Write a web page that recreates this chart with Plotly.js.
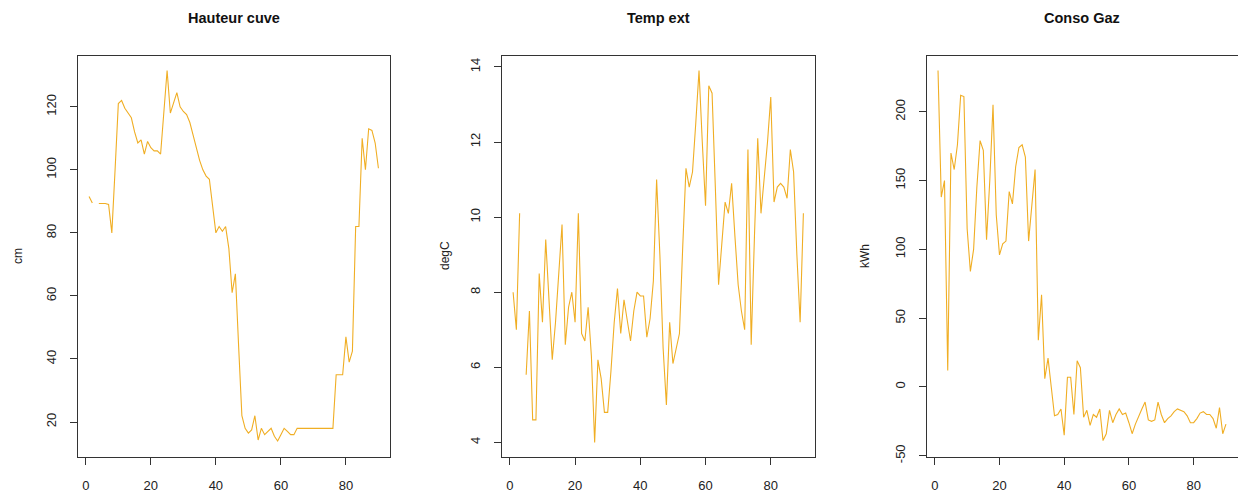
<!DOCTYPE html>
<html>
<head>
<meta charset="utf-8">
<script src="https://cdn.plot.ly/plotly-3.0.1.min.js"></script>
<style>html,body{margin:0;padding:0;background:#fff;}#chart{width:1238px;height:497px;}</style>
</head>
<body>
<div id="chart"></div>
<script>
// Index (day number)
const days = [1,2,3,4,5,6,7,8,9,10,11,12,13,14,15,16,17,18,19,20,21,22,23,24,25,26,27,28,29,30,
  31,32,33,34,35,36,37,38,39,40,41,42,43,44,45,46,47,48,49,50,51,52,53,54,55,56,57,58,59,60,
  61,62,63,64,65,66,67,68,69,70,71,72,73,74,75,76,77,78,79,80,81,82,83,84,85,86,87,88,89,90];

// Hauteur cuve (cm)
const hauteurCuve = [91.5,89.5,null,89.3,89.3,89.3,89,80,100,121,
  122,119.5,118,116.5,112,108.5,109.5,105,109,107,
  106,106,105,119,131.5,118,121,124.5,120,118.5,
  117.5,115,111,107,103,100,98,97,88,80,
  82,80.5,82,75,61,67,44,22,18,16.5,
  17.5,22,14.3,18,16,17,18,15.5,14,16,
  18,17,16,16,18,18,18,18,18,18,
  18,18,18,18,18,18,35,35,35,47,
  39,42.5,82,82,110,100,113,112.5,108.5,100.5];

// Temp ext (degC)
const tempExt = [8.0,7.0,10.1,null,5.8,7.5,4.6,4.6,8.5,7.2,
  9.4,7.8,6.2,7.2,8.6,9.8,6.6,7.6,8.0,7.2,
  10.1,6.9,6.7,7.6,6.3,4.0,6.2,5.7,4.8,4.8,
  5.9,7.2,8.1,6.9,7.8,7.3,6.7,7.5,8.0,7.9,
  7.9,6.8,7.3,8.3,11.0,9.0,6.5,5.0,7.2,6.1,
  6.5,6.9,9.2,11.3,10.8,11.2,12.5,13.9,12.0,10.3,
  13.5,13.3,10.8,8.2,9.3,10.4,10.1,10.9,9.5,8.2,
  7.5,7.0,11.8,6.6,9.5,12.1,10.1,11.0,12.0,13.2,
  10.4,10.8,10.9,10.8,10.5,11.8,11.2,9.0,7.2,10.1];

// Conso Gaz (kWh)
const consoGaz = [230,138,150,12,170,158,176,212,211,115,
  84,100,145,179,172,107,150,205,125,96,
  104,106,142,133,160,174,176,167,106,130,
  158,34,67,6,21,0,-21,-20,-16,-35,
  7,7,-20,19,14,-22,-17,-28,-20,-22,
  -16,-39,-34,-17,-26,-20,-16,-20,-19,-26,
  -34,-27,-21,-16,-11,-24,-25,-24,-11,-20,
  -26,-23,-21,-18,-16,-17,-18,-21,-26,-26,
  -23,-19,-18,-20,-20,-23,-30,-15,-34,-27];

const titles = ['Hauteur cuve', 'Temp ext', 'Conso Gaz'];
const units = ['cm', 'degC', 'kWh'];
const xTicks = [0, 20, 40, 60, 80];
const yTicks1 = [20, 40, 60, 80, 100, 120];
const yTicks2 = [4, 6, 8, 10, 12, 14];
const yTicks3 = [-50, 0, 50, 100, 150, 200];

const W = 1238, H = 497;
const LINE = '#f0ae24';
const FONT = 'Liberation Sans, Arial, Helvetica, sans-serif';

const panelPx = [[77.5, 390], [501.5, 815], [926.5, 1237.5]];
const yTopPx = 56, yBotPx = 456.7;
const yRanges = [[9.0, 136.1], [3.62, 14.29], [-50.7, 240.5]];
const yTickSets = [yTicks1, yTicks2, yTicks3];
const series = [hauteurCuve, tempExt, consoGaz];

const data = series.map((s, i) => ({
  type: 'scatter', mode: 'lines',
  x: days, y: s,
  xaxis: i === 0 ? 'x' : 'x' + (i + 1),
  yaxis: i === 0 ? 'y' : 'y' + (i + 1),
  line: {color: LINE, width: 1.1},
  connectgaps: false,
  hoverinfo: 'skip'
}));

const layout = {
  width: W, height: H,
  margin: {l: 0, r: 0, t: 0, b: 0},
  paper_bgcolor: '#ffffff', plot_bgcolor: '#ffffff',
  showlegend: false,
  font: {family: FONT, color: '#222', size: 13},
  annotations: []
};

const yDom = [1 - yBotPx / H, 1 - yTopPx / H];
for (let i = 0; i < 3; i++) {
  const sx = i === 0 ? '' : String(i + 1);
  layout['xaxis' + sx] = {
    domain: [panelPx[i][0] / W, panelPx[i][1] / W],
    anchor: 'y' + sx,
    range: [-2.56, 93.56],
    tickvals: xTicks, ticktext: xTicks.map(String),
    ticks: 'outside', ticklen: 7, tickwidth: 1, tickcolor: '#333',
    showline: true, mirror: true, linecolor: '#333', linewidth: 1,
    showgrid: false, zeroline: false,
    ticklabelstandoff: 10,
    tickfont: {family: FONT, size: 13, color: '#222'}
  };
  layout['yaxis' + sx] = {
    domain: yDom,
    anchor: 'x' + sx,
    range: yRanges[i],
    tickvals: yTickSets[i], ticktext: yTickSets[i].map(String),
    tickangle: -90,
    ticks: 'outside', ticklen: 7, tickwidth: 1, tickcolor: '#333',
    showline: true, mirror: true, linecolor: '#333', linewidth: 1,
    showgrid: false, zeroline: false,
    ticklabelstandoff: 8,
    tickfont: {family: FONT, size: 13, color: '#222'}
  };
  layout.annotations.push({
    xref: 'paper', yref: 'paper',
    x: (panelPx[i][0] + panelPx[i][1]) / 2 / W, y: 1 - 18 / H,
    xanchor: 'center', yanchor: 'middle',
    text: '<b>' + titles[i] + '</b>', showarrow: false,
    font: {family: FONT, size: 14.5, color: '#111'}
  });
  const titleX = [18, 445, 865][i];
  layout.annotations.push({
    xref: 'paper', yref: 'paper',
    x: titleX / W, y: 1 - 256 / H,
    xanchor: 'center', yanchor: 'middle',
    text: units[i], textangle: -90, showarrow: false,
    font: {family: FONT, size: 12, color: '#222'}
  });
}

Plotly.newPlot('chart', data, layout, {staticPlot: true, displayModeBar: false});
</script>
</body>
</html>
